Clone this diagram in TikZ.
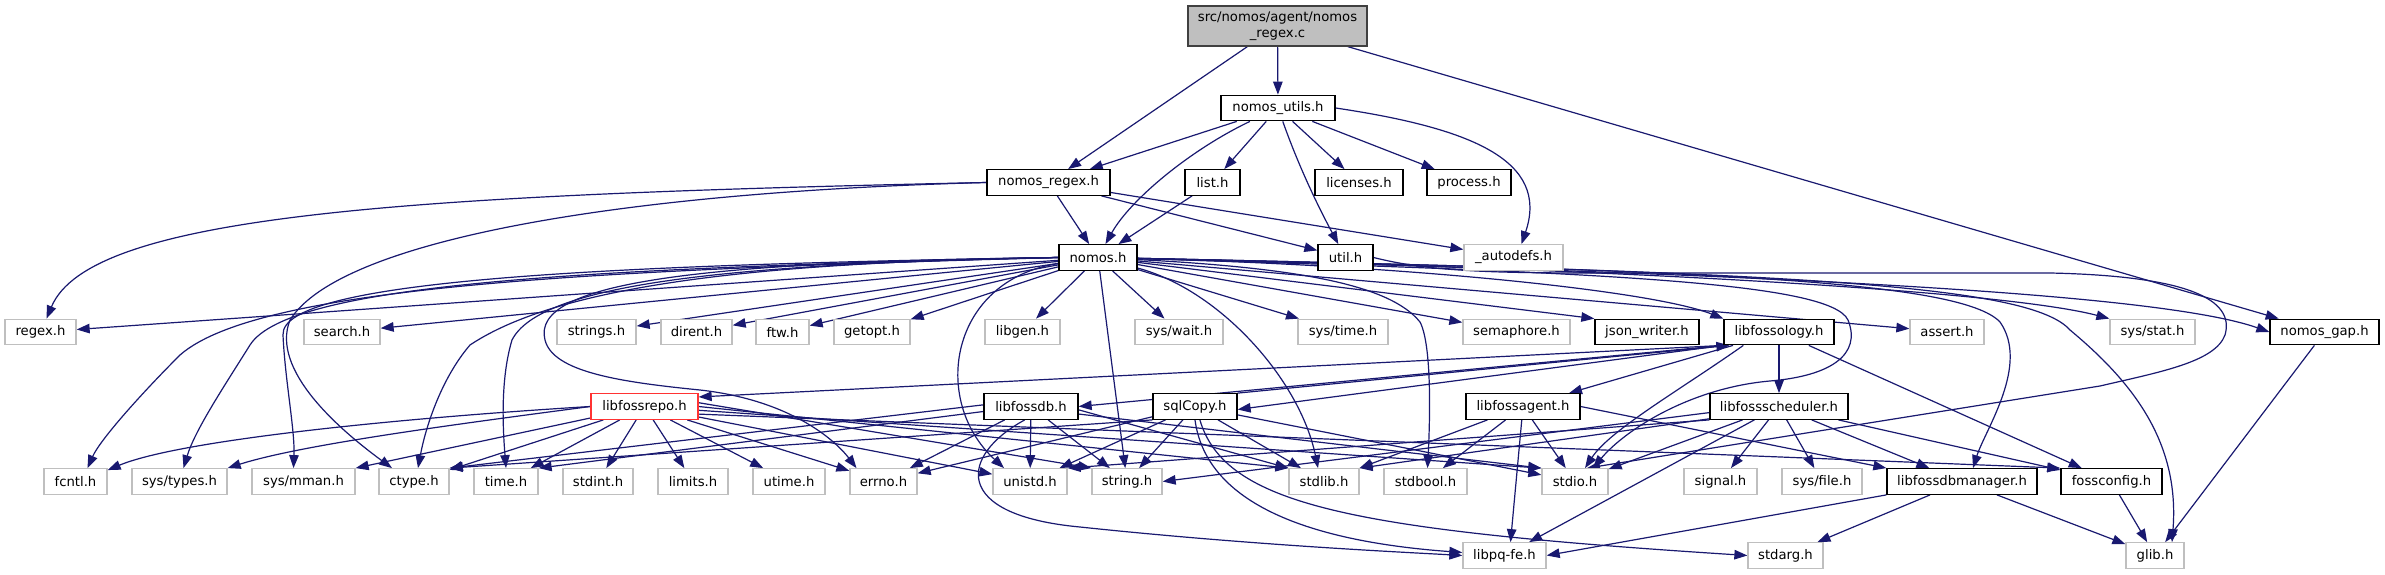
\documentclass[tikz,border=0pt]{standalone}
\usepackage{fontspec}
\setmainfont{DejaVu Sans}
\usetikzlibrary{arrows.meta,backgrounds}
\definecolor{navy}{HTML}{191970}
\definecolor{grayb}{HTML}{BFBFBF}
\definecolor{redb}{HTML}{FF3333}
\definecolor{topfill}{HTML}{BFBFBF}
\definecolor{topdraw}{HTML}{404040}
\newcommand\fs{\fontsize{13.2}{15.5}\selectfont}
\newcommand\nd[6]{\node[#1,minimum width={(#4)-(#3)}] (#2) at ({((#3)+(#4))/2},{-(#5)}) {#6};}
\tikzset{
  box/.style={draw, line width=1.3pt, minimum height=25.5pt, inner sep=0pt, font=\fs, fill=white, text=black},
  doc/.style={box, draw=black},
  ext/.style={box, draw=grayb},
  trunc/.style={box, draw=redb},
  topbox/.style={box, fill=topfill, draw=topdraw, minimum height=40pt, align=center},
  e/.style={draw=navy, line width=1.2pt, -{Triangle[length=13pt,width=9.5pt]}},
}
\begin{document}
\begin{tikzpicture}[x=1pt,y=1pt]
\useasboundingbox (0,0) rectangle (2385,-575);
% nodes
\nd{topbox}{c}{1188}{1367}{26}{src/nomos/agent/nomos\\\_regex.c}
\nd{doc}{nutils}{1221}{1335}{108}{nomos\_utils.h}
\nd{doc}{nregexh}{987}{1110}{182.5}{nomos\_regex.h}
\nd{doc}{list}{1185}{1240}{182.5}{list.h}
\nd{doc}{lic}{1315}{1403}{182.5}{licenses.h}
\nd{doc}{proc}{1427}{1511}{182.5}{process.h}
\nd{doc}{nomos}{1059}{1137}{257.5}{nomos.h}
\nd{doc}{util}{1318}{1373}{257.5}{util.h}
\nd{ext}{autodefs}{1464}{1563}{257.5}{\_autodefs.h}
% row 4
\nd{ext}{regex}{5}{76}{332}{regex.h}
\nd{ext}{search}{304}{380}{332}{search.h}
\nd{ext}{strings}{557}{636}{332}{strings.h}
\nd{ext}{dirent}{661}{732}{332}{dirent.h}
\nd{ext}{ftw}{756}{809}{332}{ftw.h}
\nd{ext}{getopt}{834}{910}{332}{getopt.h}
\nd{ext}{libgen}{985}{1060}{332}{libgen.h}
\nd{ext}{syswait}{1135}{1223}{332}{sys/wait.h}
\nd{ext}{systime}{1298}{1388}{332}{sys/time.h}
\nd{ext}{sema}{1463}{1570}{332}{semaphore.h}
\nd{doc}{json}{1595}{1699}{332}{json\_writer.h}
\nd{doc}{lfology}{1724}{1834}{332}{libfossology.h}
\nd{ext}{assert}{1910}{1984}{332}{assert.h}
\nd{ext}{sysstat}{2110}{2195}{332}{sys/stat.h}
\nd{doc}{gap}{2270}{2379}{332}{nomos\_gap.h}
% row 5
\nd{trunc}{lrepo}{591}{698}{406.5}{libfossrepo.h}
\nd{doc}{ldb}{984}{1078}{406.5}{libfossdb.h}
\nd{doc}{sqlc}{1153}{1237}{406.5}{sqlCopy.h}
\nd{doc}{lagent}{1466}{1580}{406.5}{libfossagent.h}
\nd{doc}{lsched}{1710}{1848}{406.5}{libfossscheduler.h}
% row 6
\nd{ext}{fcntl}{44}{107}{481.5}{fcntl.h}
\nd{ext}{systypes}{132}{227}{481.5}{sys/types.h}
\nd{ext}{sysmman}{252}{355}{481.5}{sys/mman.h}
\nd{ext}{ctype}{379}{449}{481.5}{ctype.h}
\nd{ext}{time}{474}{538}{481.5}{time.h}
\nd{ext}{stdint}{563}{633}{481.5}{stdint.h}
\nd{ext}{limits}{658}{728}{481.5}{limits.h}
\nd{ext}{utime}{753}{825}{481.5}{utime.h}
\nd{ext}{errno}{850}{917}{481.5}{errno.h}
\nd{ext}{unistd}{993}{1067}{481.5}{unistd.h}
\nd{ext}{string}{1092}{1162}{481.5}{string.h}
\nd{ext}{stdlib}{1289}{1359}{481.5}{stdlib.h}
\nd{ext}{stdbool}{1384}{1467}{481.5}{stdbool.h}
\nd{ext}{stdio}{1542}{1608}{481.5}{stdio.h}
\nd{ext}{signal}{1684}{1757}{481.5}{signal.h}
\nd{ext}{sysfile}{1782}{1862}{481.5}{sys/file.h}
\nd{doc}{ldbm}{1887}{2037}{481.5}{libfossdbmanager.h}
\nd{doc}{fconf}{2061}{2162}{481.5}{fossconfig.h}
% row 7
\nd{ext}{libpq}{1463}{1546}{555.5}{libpq-fe.h}
\nd{ext}{stdarg}{1748}{1823}{555.5}{stdarg.h}
\nd{ext}{glib}{2126}{2184}{555.5}{glib.h}

\begin{pgfonlayer}{background}
\fill[white] (0,0) rectangle (2385,-575);
% top
\draw[e] (c) -- (nregexh);
\draw[e] (c) -- (nutils);
\draw[e] (c) -- (gap);
\draw[e] (nutils) -- (nregexh);
\draw[e] (nutils) .. controls (1190,-150) and (1130,-200) .. (nomos);
\draw[e] (nutils) -- (list);
\draw[e] (nutils) .. controls (1300,-170) and (1320,-210) .. (util);
\draw[e] (nutils) -- (lic);
\draw[e] (nutils) -- (proc);
\draw[e] (nutils.east) .. controls (1470,-128) and (1550,-160) .. ([xshift=8]autodefs.north);
\draw[e] (nregexh.west) .. controls (400,-195) and (90,-215) .. ([xshift=6]regex.north);
\draw[e] (nregexh.west) .. controls (620,-192) and (340,-240) .. (290,-320) .. controls (270,-370) and (340,-430) .. ([xshift=-22]ctype.north);
\draw[e] (nregexh) -- (nomos);
\draw[e] (nregexh) -- (util);
\draw[e] (nregexh) -- (autodefs);
\draw[e] (list) -- (nomos);
\draw[e] (util.east) .. controls (1430,-272) and (1500,-273) .. (1600,-273) -- (2050,-273) .. controls (2190,-276) and (2235,-300) .. (2225,-335) .. controls (2215,-362) and (2160,-372) .. (2100,-386) -- ([xshift=12]stdio.north);
% nomos.h
\foreach \t in {regex,search,strings,dirent,ftw,getopt,libgen,syswait,systime,sema,assert}
  \draw[e] (nomos) -- (\t);
\draw[e] (nomos) -- (json.north west);
\draw[e] (nomos) .. controls (1400,-265) and (1650,-290) .. (lfology.north west);
\draw[e] (nomos) .. controls (1600,-268) and (2000,-290) .. (sysstat.north west);
\draw[e] (nomos) .. controls (1700,-272) and (2150,-290) .. (gap.west);
\draw[e] (nomos) .. controls (1800,-272) and (2030,-285) .. (2070,-330) .. controls (2130,-380) and (2180,-440) .. ([xshift=17]glib.north);
\draw[e] (nomos) .. controls (1700,-270) and (1960,-280) .. (2000,-322) .. controls (2030,-365) and (1985,-430) .. ([xshift=11]ldbm.north);
\draw[e] (nomos) .. controls (1600,-272) and (1830,-282) .. (1848,-320) .. controls (1862,-355) and (1830,-376) .. (1770,-381) .. controls (1690,-388) and (1625,-430) .. ([xshift=18]stdio.north);
\draw[e] (nomos) .. controls (1300,-268) and (1390,-285) .. (1420,-322) .. controls (1432,-345) and (1430,-420) .. ([xshift=2]stdbool.north);
\draw[e] (nomos) .. controls (1220,-290) and (1300,-380) .. ([xshift=-6]stdlib.north);
\draw[e] (nomos) -- (string);
\draw[e] (nomos) .. controls (950,-280) and (930,-400) .. ([xshift=-26]unistd.north);
\draw[e] (nomos.west) .. controls (700,-262) and (530,-282) .. (545,-340) .. controls (553,-372) and (620,-382) .. (700,-390) .. controls (790,-400) and (835,-440) .. ([xshift=-27]errno.north);
\draw[e] (nomos.west) .. controls (720,-264) and (540,-285) .. (512,-340) .. controls (500,-380) and (503,-430) .. (time.north);
\draw[e] (nomos.west) .. controls (760,-262) and (560,-285) .. (470,-345) .. controls (440,-380) and (425,-430) .. ([xshift=4]ctype.north);
\draw[e] (nomos.west) .. controls (600,-265) and (280,-280) .. (283,-335) .. controls (285,-380) and (295,-430) .. ([xshift=-10]sysmman.north);
\draw[e] (nomos.west) .. controls (600,-268) and (290,-282) .. (250,-345) .. controls (225,-385) and (195,-430) .. ([xshift=4]systypes.north);
\draw[e] (nomos.west) .. controls (600,-270) and (260,-285) .. (180,-355) .. controls (140,-395) and (100,-440) .. ([xshift=12]fcntl.north);
% libfossology.h
\draw[e] (lfology) -- (lsched);
\draw[e] (lfology) -- (fconf);
\draw[e] (lfology.south west) -- (lrepo.10);
\draw[e] (lfology.south west) -- (ldb.east);
\draw[e] (lfology.south west) -- ([yshift=-3]sqlc.east);
\draw[e] (sqlc.north east) -- ([xshift=6]lfology.south west);
\draw[e] (lfology) -- (lagent);
\draw[e] ([xshift=20]lfology.south west) .. controls (1680,-390) and (1610,-430) .. ([xshift=10]stdio.north);
% libfossrepo.h
\draw[e] (lrepo.west) .. controls (400,-418) and (180,-440) .. ([yshift=-2]fcntl.north east);
\draw[e] (lrepo.west) .. controls (450,-425) and (300,-445) .. (systypes.north east);
\draw[e] (lrepo) -- (sysmman.north east);
\draw[e] (lrepo) -- (ctype);
\draw[e] (lrepo) -- (time);
\draw[e] (lrepo) -- (stdint);
\draw[e] (lrepo) -- (limits);
\draw[e] (lrepo) -- (utime);
\draw[e] (lrepo) -- (errno);
\draw[e] (lrepo) -- (unistd);
\draw[e] (lrepo.4) -- (string.north west);
\draw[e] (lrepo.0) -- (stdlib.north west);
\draw[e] (lrepo.-4) -- (stdio.north west);
\draw[e] (lrepo.-8) -- (fconf.north west);
% libfossdb.h
\draw[e] (ldb.178) -- (ctype.north east);
\draw[e] (ldb.186) -- (time.north east);
\draw[e] (ldb) -- (errno);
\draw[e] (ldb) -- (unistd);
\draw[e] (ldb) -- (string);
\draw[e] (ldb.-115) .. controls (960,-455) and (950,-515) .. (1080,-527) .. controls (1250,-545) and (1400,-552) .. (libpq.west);
\draw[e] (ldb.-4) -- (stdlib.north west);
\draw[e] (ldb.-9) -- (stdio.north west);
% sqlCopy.h
\draw[e] (sqlc.south west) -- (ctype.north east);
\draw[e] (sqlc) -- (errno);
\draw[e] (sqlc) -- (unistd);
\draw[e] (sqlc) -- (string);
\draw[e] (sqlc) -- (stdlib);
\draw[e] (sqlc) -- (stdio);
\draw[e] (sqlc.south) .. controls (1205,-495) and (1290,-540) .. ([yshift=3]libpq.west);
\draw[e] (sqlc.-70) .. controls (1225,-505) and (1350,-530) .. (stdarg.west);
% libfossagent.h
\draw[e] (lagent) -- (stdlib);
\draw[e] (lagent) -- (stdbool);
\draw[e] (lagent) -- ([xshift=6]libpq.north);
\draw[e] (lagent) -- (stdio);
\draw[e] (lagent.east) -- (ldbm.north west);
% libfossscheduler.h
\draw[e] (lsched) -- (signal);
\draw[e] (lsched) -- (sysfile);
\draw[e] (lsched) -- (ldbm);
\draw[e] (lsched) -- (fconf);
\draw[e] (lsched) -- (stdio);
\draw[e] (lsched) -- (libpq);
\draw[e] (lsched.185) -- (string.east);
\draw[e] (lsched.190) -- (stdlib.north east);
\draw[e] (lsched.south west) -- (unistd.north east);
% libfossdbmanager.h etc.
\draw[e] (ldbm.south west) -- (libpq.east);
\draw[e] (ldbm) -- (stdarg);
\draw[e] (ldbm) -- (glib);
\draw[e] (fconf) -- (glib);
\draw[e] (gap) -- (glib);
\end{pgfonlayer}
\end{tikzpicture}
\end{document}
